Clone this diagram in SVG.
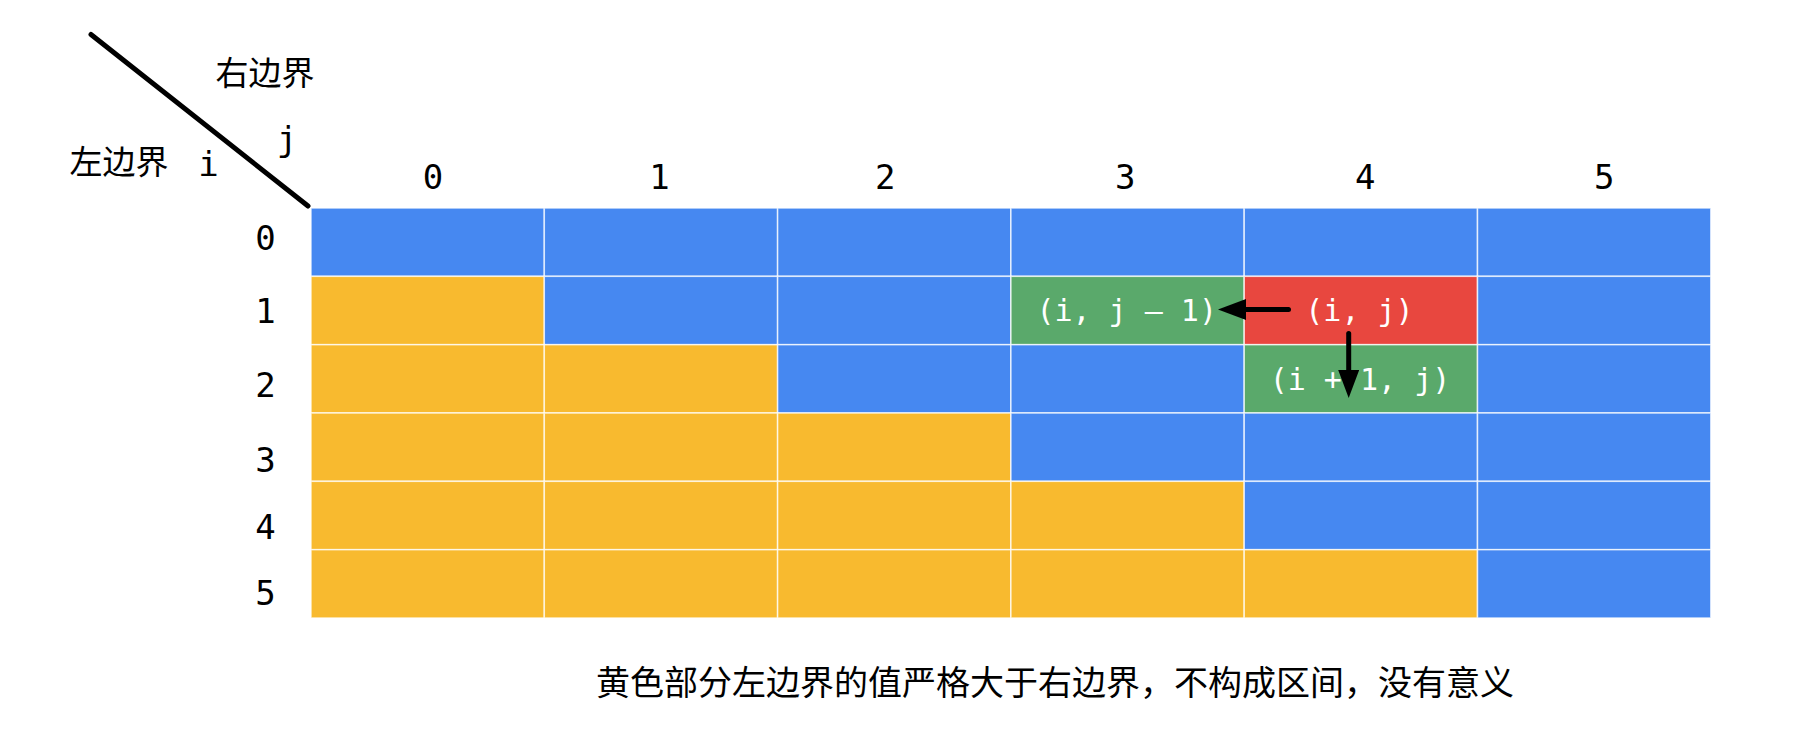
<svg xmlns="http://www.w3.org/2000/svg" width="1808" height="748" viewBox="0 0 1808 748">
<style>
.b{fill:#4688f1}
.y{fill:#f8ba2f}
.g{fill:#5aa96b}
.r{fill:#e8473f}
.cell{stroke:#ffffff;stroke-opacity:0.75;stroke-width:1.5}
.lbl{font-family:"DejaVu Sans Mono","Liberation Mono",monospace;font-size:34px;fill:#000;text-anchor:middle}
.wt{font-family:"DejaVu Sans Mono","Liberation Mono",monospace;font-size:30px;fill:#fff;text-anchor:middle}
.cjk{font-family:"Noto Sans CJK SC","Noto Sans",sans-serif;font-size:33px;fill:#000;text-anchor:middle}
.arr{stroke:#000;stroke-width:5;fill:none;stroke-linecap:round}
</style>
<defs>
<marker id="ah" markerUnits="userSpaceOnUse" markerWidth="30" markerHeight="22" refX="1" refY="10.5" orient="auto">
<path d="M0,0 L28,10.5 L0,21 Z" fill="#000"/>
</marker>
</defs>
<rect width="1808" height="748" fill="#ffffff"/>
<g id="header">
<line x1="91" y1="34.5" x2="308" y2="206" stroke="#000" stroke-width="5" stroke-linecap="round"/>
<text class="cjk" x="265" y="84.5">右边界</text>
<text class="cjk" x="119" y="173.5">左边界</text>
<text class="lbl" x="208.5" y="176">i</text>
<text class="lbl" x="287" y="151">j</text>
</g>
<g id="col-labels">
<text class="lbl" x="433" y="189">0</text>
<text class="lbl" x="659.5" y="189">1</text>
<text class="lbl" x="885.3" y="189">2</text>
<text class="lbl" x="1125.3" y="189">3</text>
<text class="lbl" x="1365.3" y="189">4</text>
<text class="lbl" x="1604.3" y="189">5</text>
</g>
<g id="row-labels">
<text class="lbl" x="265.5" y="250">0</text>
<text class="lbl" x="265.5" y="323">1</text>
<text class="lbl" x="265.5" y="397">2</text>
<text class="lbl" x="265.5" y="472">3</text>
<text class="lbl" x="265.5" y="538.5">4</text>
<text class="lbl" x="265.5" y="605">5</text>
</g>
<g id="grid" class="cell">
<!-- row 0 -->
<rect class="b" x="311" y="208" width="233.3" height="68.33"/>
<rect class="b" x="544.3" y="208" width="233.3" height="68.33"/>
<rect class="b" x="777.6" y="208" width="233.3" height="68.33"/>
<rect class="b" x="1010.9" y="208" width="233.3" height="68.33"/>
<rect class="b" x="1244.2" y="208" width="233.3" height="68.33"/>
<rect class="b" x="1477.5" y="208" width="233.3" height="68.33"/>
<!-- row 1 -->
<rect class="y" x="311" y="276.33" width="233.3" height="68.33"/>
<rect class="b" x="544.3" y="276.33" width="233.3" height="68.33"/>
<rect class="b" x="777.6" y="276.33" width="233.3" height="68.33"/>
<rect id="cell-i-jm1" class="g" x="1010.9" y="276.33" width="233.3" height="68.33"/>
<rect id="cell-i-j" class="r" x="1244.2" y="276.33" width="233.3" height="68.33"/>
<rect class="b" x="1477.5" y="276.33" width="233.3" height="68.33"/>
<!-- row 2 -->
<rect class="y" x="311" y="344.67" width="233.3" height="68.33"/>
<rect class="y" x="544.3" y="344.67" width="233.3" height="68.33"/>
<rect class="b" x="777.6" y="344.67" width="233.3" height="68.33"/>
<rect class="b" x="1010.9" y="344.67" width="233.3" height="68.33"/>
<rect id="cell-ip1-j" class="g" x="1244.2" y="344.67" width="233.3" height="68.33"/>
<rect class="b" x="1477.5" y="344.67" width="233.3" height="68.33"/>
<!-- row 3 -->
<rect class="y" x="311" y="413" width="233.3" height="68.33"/>
<rect class="y" x="544.3" y="413" width="233.3" height="68.33"/>
<rect class="y" x="777.6" y="413" width="233.3" height="68.33"/>
<rect class="b" x="1010.9" y="413" width="233.3" height="68.33"/>
<rect class="b" x="1244.2" y="413" width="233.3" height="68.33"/>
<rect class="b" x="1477.5" y="413" width="233.3" height="68.33"/>
<!-- row 4 -->
<rect class="y" x="311" y="481.33" width="233.3" height="68.33"/>
<rect class="y" x="544.3" y="481.33" width="233.3" height="68.33"/>
<rect class="y" x="777.6" y="481.33" width="233.3" height="68.33"/>
<rect class="y" x="1010.9" y="481.33" width="233.3" height="68.33"/>
<rect class="b" x="1244.2" y="481.33" width="233.3" height="68.33"/>
<rect class="b" x="1477.5" y="481.33" width="233.3" height="68.33"/>
<!-- row 5 -->
<rect class="y" x="311" y="549.67" width="233.3" height="68.33"/>
<rect class="y" x="544.3" y="549.67" width="233.3" height="68.33"/>
<rect class="y" x="777.6" y="549.67" width="233.3" height="68.33"/>
<rect class="y" x="1010.9" y="549.67" width="233.3" height="68.33"/>
<rect class="y" x="1244.2" y="549.67" width="233.3" height="68.33"/>
<rect class="b" x="1477.5" y="549.67" width="233.3" height="68.33"/>
</g>
<g id="node-i-jm1"><text class="wt" x="1126.7" y="321">(i, j – 1)</text></g>
<g id="node-i-j"><text class="wt" x="1359.5" y="321">(i, j)</text></g>
<g id="node-ip1-j"><text class="wt" x="1360" y="390">(i + 1, j)</text></g>
<g id="connectors">
<line class="arr" x1="1288.5" y1="309.5" x2="1245" y2="309.5" marker-end="url(#ah)"/>
<line class="arr" x1="1348.7" y1="333.5" x2="1348.7" y2="371" marker-end="url(#ah)"/>
</g>
<g id="caption">
<text class="cjk" style="font-size:34px" x="1055" y="694.5">黄色部分左边界的值严格大于右边界，不构成区间，没有意义</text>
</g>
</svg>
